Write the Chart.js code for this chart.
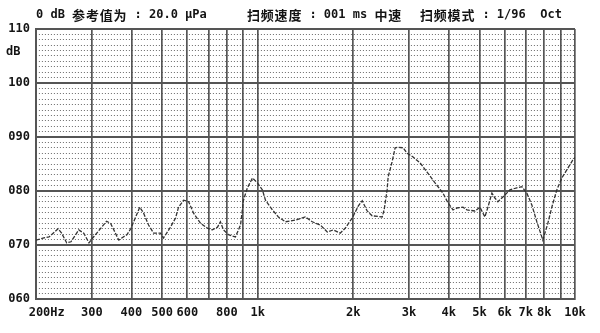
<!DOCTYPE html>
<html>
<head>
<meta charset="utf-8">
<script src="https://cdn.jsdelivr.net/npm/chart.js@4/dist/chart.umd.min.js"></script>
<style>
html,body{margin:0;padding:0;background:#fff;}
#wrap{width:600px;height:333px;position:relative;}
</style>
</head>
<body>
<div id="wrap"><canvas id="c" width="600" height="333"></canvas></div>
<script>
// ---- data ----
const freqHz = [200,212,220,235,241,250,258,273,283,294,302,334,344,365,373,387,398,425,437,453,470,494,505,531,551,563,584,606,628,661,695,720,747,763,780,809,851,883,902,928,963,998,1035,1058,1113,1162,1223,1314,1413,1486,1576,1657,1731,1820,1887,1986,2074,2135,2213,2295,2468,2503,2558,2577,2652,2711,2770,2873,2957,3088,3249,3418,3622,3837,3979,4126,4278,4435,4566,4838,5016,5201,5315,5472,5592,5715,5926,6234,6557,6800,7052,7312,7582,7860,7918,8210,8452,8763,9085,9420,9836,10000];
const levelDb = [70.9,71.3,71.5,73.0,72.2,70.4,70.6,72.8,72.2,70.4,71.3,74.4,74.0,70.9,71.3,71.9,73.0,77.0,75.9,73.7,72.2,72.2,71.3,73.3,75.0,77.0,78.3,78.0,75.9,74.0,73.1,72.8,73.3,74.3,72.8,71.9,71.5,73.7,78.3,80.6,82.4,81.5,80.2,78.3,76.5,75.2,74.3,74.6,75.2,74.3,73.7,72.4,72.8,72.2,73.1,75.0,77.2,78.2,76.3,75.4,75.2,76.5,80.2,82.6,85.4,88.0,88.1,88.0,87.0,86.3,85.2,83.5,81.5,79.6,77.8,76.5,76.9,77.0,76.5,76.3,77.0,75.2,77.0,79.6,78.7,78.0,78.9,80.2,80.6,80.8,79.6,77.4,74.3,71.5,70.9,74.0,77.0,80.2,82.4,83.9,85.7,86.2];
const xTickValues = [200,300,400,500,600,700,800,900,1000,2000,3000,4000,5000,6000,7000,8000,9000,10000];
const xTickLabels = ['   200Hz','300','400','500','600','','800','','1k','2k','3k','4k','5k','6k','7k','8k','','10k'];
const yTickValues = [60,70,80,90,100,110];
const yTickLabels = ['060','070','080','090','100','110'];
const yUnit = 'dB';
const headerParts = ['0 dB 参考值为 : 20.0 μPa', '扫频速度 : 001 ms 中速', '扫频模式 : 1/96  Oct'];

const MONO = "bold 12px 'DejaVu Sans Mono', monospace";
const CJK = "bold 13px 'Noto Sans CJK SC', sans-serif";
const INK = '#141414';
const GRID = '#555555';

function drawRuns(ctx, text, x, y){
  ctx.textBaseline = 'middle';
  ctx.textAlign = 'left';
  for (const ch of text){
    const cjk = ch.charCodeAt(0) > 0x2E80;
    ctx.font = cjk ? CJK : MONO;
    ctx.fillText(ch, x, y);
    x += ctx.measureText(ch).width + (cjk ? 0.8 : 0);
  }
}

const overlay = {
  id: 'overlay',
  afterDraw(chart){
    const ctx = chart.ctx;
    const ys = chart.scales.y;
    ctx.save();
    ctx.fillStyle = INK;
    const hx = [36, 247, 420];
    headerParts.forEach((t,i)=>drawRuns(ctx, t, hx[i], 15));
    ctx.font = MONO;
    ctx.textAlign = 'left';
    ctx.textBaseline = 'middle';
    ctx.fillText(yUnit, 6, ys.getPixelForValue(110) + 23);
    ctx.restore();
  }
};

new Chart(document.getElementById('c'), {
  type: 'line',
  data: {
    datasets: [{
      data: freqHz.map((f,i)=>({x:f, y:levelDb[i]})),
      borderColor: '#333333',
      borderWidth: 1.3,
      borderDash: [4,1.5],
      pointRadius: 0,
      tension: 0,
      fill: false
    }]
  },
  options: {
    responsive: false,
    animation: false,
    devicePixelRatio: 1,
    layout: { padding: { top: 29, right: 25, left: 0, bottom: 0 } },
    plugins: { legend: {display:false}, tooltip: {enabled:false}, title: {display:false} },
    scales: {
      x: {
        type: 'logarithmic',
        min: 200, max: 10000,
        afterBuildTicks: s => { s.ticks = xTickValues.map(v=>({value:v})); },
        afterFit: s => { s.height = 34; },
        ticks: {
          autoSkip: false, maxRotation: 0, minRotation: 0,
          padding: 7,
          color: INK,
          font: { family: "'DejaVu Sans Mono', monospace", size: 12, weight: 'bold' },
          callback: (v, i) => xTickLabels[i]
        },
        grid: { color: GRID, lineWidth: 1.7, drawTicks: false, z: -1 },
        border: { display: true, color: GRID, width: 2 }
      },
      y: {
        min: 60, max: 110,
        afterBuildTicks: s => { s.ticks = yTickValues.map(v=>({value:v})); },
        afterFit: s => { s.width = 35; },
        ticks: {
          padding: 6,
          color: INK,
          font: { family: "'DejaVu Sans Mono', monospace", size: 12, weight: 'bold' },
          callback: (v, i) => yTickLabels[i]
        },
        grid: { color: GRID, lineWidth: 2, drawTicks: false, z: -1 },
        border: { display: true, color: GRID, width: 2 }
      },
      yMinor: {
        position: 'right',
        min: 60, max: 110,
        afterBuildTicks: s => { const t=[]; for (const v of yTickValues.slice(0,-1)) for (let k=1;k<10;k++) t.push({value:v+k}); s.ticks = t; },
        afterFit: s => { s.width = 0; },
        ticks: { display: false },
        grid: { color: '#6a6a6a', lineWidth: 1, drawTicks: false, z: -2 },
        border: { display: false, dash: [1,2] }
      }
    }
  },
  plugins: [overlay]
});
</script>
</body>
</html>
